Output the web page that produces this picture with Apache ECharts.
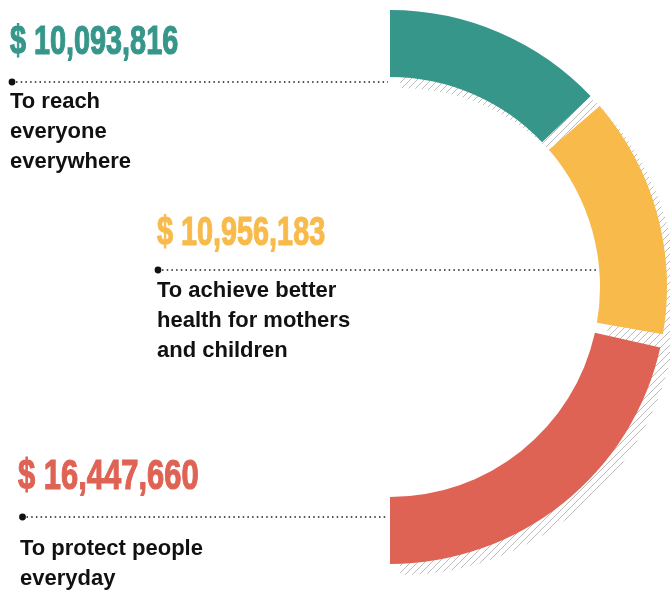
<!DOCTYPE html>
<html>
<head>
<meta charset="utf-8">
<script src="https://cdn.jsdelivr.net/npm/echarts@6/dist/echarts.min.js"></script>
<style>
  html, body { margin: 0; padding: 0; background: #ffffff; }
  #chart { width: 670px; height: 590px; }
</style>
</head>
<body>
<div id="chart"></div>
<script>
// Funding split by goal
const categories = [
  'To reach everyone everywhere',
  'To achieve better health for mothers and children',
  'To protect people everyday'
];
const descriptionLines = [
  ['To reach', 'everyone', 'everywhere'],
  ['To achieve better', 'health for mothers', 'and children'],
  ['To protect people', 'everyday']
];
const values = [10093816, 10956183, 16447660];

// Styling and label placement
const palette = ['#36968a', '#f8bb4b', '#df6354'];
const labelLayout = [
  { x: 10,  valueY: 43,    fontSize: 40, dotX: 12,  lineY: 82,  lineEnd: 388, bodyY: 87 },
  { x: 157, valueY: 234,   fontSize: 40, dotX: 158, lineY: 270, lineEnd: 599, bodyY: 276 },
  { x: 18,  valueY: 477.5, fontSize: 43, dotX: 22.5, lineY: 517, lineEnd: 388, bodyX: 20, bodyY: 534 }
];
const FONT = '"Liberation Sans", Arial, Helvetica, sans-serif';
const PAD = 2.8; // gap between slices, degrees

// Diagonal hatch used for the offset shadow ring
function makeHatch(size, color) {
  const c = document.createElement('canvas');
  c.width = size; c.height = size;
  const ctx = c.getContext('2d');
  ctx.strokeStyle = color;
  ctx.lineWidth = 1;
  ctx.beginPath();
  ctx.moveTo(-1, size + 1); ctx.lineTo(size + 1, -1);
  ctx.moveTo(-1, 1); ctx.lineTo(1, -1);
  ctx.moveTo(size - 1, size + 1); ctx.lineTo(size + 1, size - 1);
  ctx.stroke();
  return c;
}
const hatch = { image: makeHatch(7, '#bcbcbc'), repeat: 'repeat' };

const total = values.reduce((a, b) => a + b, 0);
const formatMoney = v => '$ ' + v.toLocaleString('en-US');

const graphics = [];
values.forEach((v, i) => {
  const L = labelLayout[i];
  graphics.push({
    type: 'text', x: L.x, y: L.valueY, scaleX: 0.72, z: 10,
    style: {
      text: formatMoney(v), fill: palette[i],
      stroke: palette[i], lineWidth: 1.2,
      fontSize: L.fontSize, fontWeight: 'bold', fontFamily: FONT,
      align: 'left', verticalAlign: 'middle'
    }
  });
  graphics.push({
    type: 'line', z: 9,
    shape: { x1: L.dotX + 4, y1: L.lineY, x2: L.lineEnd, y2: L.lineY },
    style: { stroke: '#1a1a1a', lineWidth: 1.5, lineDash: [1.5, 3.2] }
  });
  graphics.push({
    type: 'circle', z: 10,
    shape: { cx: L.dotX, cy: L.lineY, r: 3.4 },
    style: { fill: '#111111' }
  });
  graphics.push({
    type: 'text', x: (L.bodyX !== undefined ? L.bodyX : L.x), y: L.bodyY, z: 10,
    style: {
      text: descriptionLines[i].join('\n'), fill: '#111111',
      fontSize: 22, fontWeight: 'bold', fontFamily: FONT,
      lineHeight: 30, align: 'left', verticalAlign: 'top'
    }
  });
});

const chart = echarts.init(document.getElementById('chart'), null, { renderer: 'canvas' });
chart.setOption({
  animation: false,
  backgroundColor: '#ffffff',
  graphic: { elements: graphics },
  series: [
    {
      // hatched shadow behind the ring
      type: 'pie', silent: true, z: 1,
      center: [400, 298], radius: [210, 277],
      startAngle: 90, endAngle: -90,
      label: { show: false }, labelLine: { show: false },
      data: [{ name: 'shadow', value: total, itemStyle: { color: hatch } }]
    },
    {
      type: 'pie', silent: true, z: 2,
      center: [390, 287], radius: [210, 277],
      // widen by half a gap at each end so the outer edges stay vertical
      startAngle: 90 + PAD / 2, endAngle: -90 - PAD / 2, padAngle: PAD,
      label: { show: false }, labelLine: { show: false },
      data: values.map((v, i) => ({
        name: categories[i], value: v, itemStyle: { color: palette[i] }
      }))
    }
  ]
});
</script>
</body>
</html>
